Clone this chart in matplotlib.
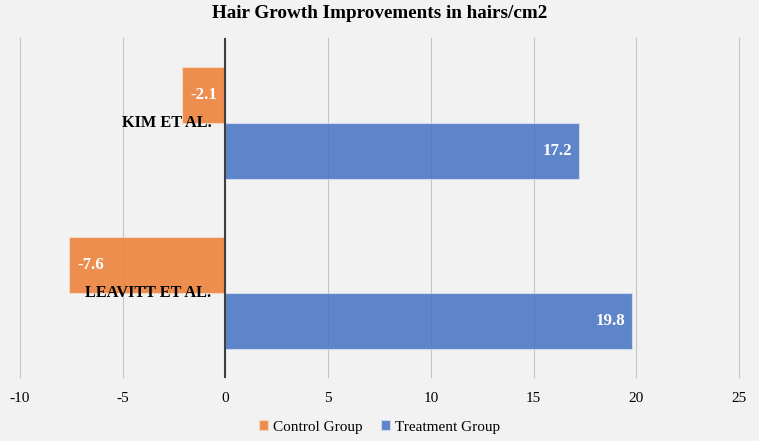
import matplotlib
matplotlib.use("Agg")
import matplotlib.pyplot as plt
import numpy as np

categories = ["KIM ET AL.", "LEAVITT ET AL."]
control = [-2.1, -7.6]
treatment = [17.2, 19.8]
series_names = ["Control Group", "Treatment Group"]
xticks = [-10, -5, 0, 5, 10, 15, 20, 25]

plt.rcParams['font.family'] = ['Liberation Serif', 'DejaVu Serif']

fig = plt.figure(figsize=(7.59, 4.41), dpi=100, facecolor="#f2f2f2")
ax = fig.add_axes([0.0237, 0.1429, 0.9526, 0.7709])
ax.set_facecolor("#f2f2f2")

y = np.arange(len(categories))
h = 0.33
orange = "#ED7D31"
blue = "#4472C4"
b1 = ax.barh(y - h / 2, control, height=h, color=orange, alpha=0.85,
             edgecolor="#f8dcc8", linewidth=0.8, zorder=3, label=series_names[0])
b2 = ax.barh(y + h / 2, treatment, height=h, color=blue, alpha=0.85,
             edgecolor="#d6dff0", linewidth=0.8, zorder=3, label=series_names[1])

ax.set_xlim(-10.1, 25.1)
ax.set_ylim(1.5, -0.5)
ax.set_xticks(xticks)
ax.set_xticklabels([str(t) for t in xticks], fontsize=11)
ax.tick_params(axis='x', length=0, pad=10)
ax.set_yticks([])
ax.grid(axis='x', color="#c4c4c4", linewidth=0.8, zorder=0)
ax.axvline(0, color="#404040", linewidth=1.5, zorder=4)
for s in ax.spines.values():
    s.set_visible(False)

for bars in (b1, b2):
    for rect, v in zip(bars, bars.datavalues):
        yc = rect.get_y() + rect.get_height() / 2
        if v < 0:
            ax.annotate(f"{v}", (v, yc), xytext=(6, 0), textcoords="offset points",
                        ha="left", va="center", color="white", fontweight="bold",
                        fontsize=12.2, zorder=5)
        else:
            ax.annotate(f"{v}", (v, yc), xytext=(-5, 0), textcoords="offset points",
                        ha="right", va="center", color="white", fontweight="bold",
                        fontsize=12.2, zorder=5)

for yi, name in zip(y, categories):
    ax.annotate(name, (0, yi), xytext=(-10, 0), textcoords="offset points",
                ha="right", va="center", fontweight="bold", fontsize=11.7,
                color="black", zorder=6)

fig.suptitle("Hair Growth Improvements in hairs/cm2", y=0.988, fontsize=13.8,
             fontweight="bold")
leg = fig.legend(handles=[b1, b2], labels=series_names, loc="center",
                 bbox_to_anchor=(0.5, 0.032), ncol=2, frameon=False, fontsize=11,
                 handlelength=0.6, handleheight=0.6, handletextpad=0.3,
                 columnspacing=1.2)

fig.savefig("out.png", dpi=100, facecolor=fig.get_facecolor())
